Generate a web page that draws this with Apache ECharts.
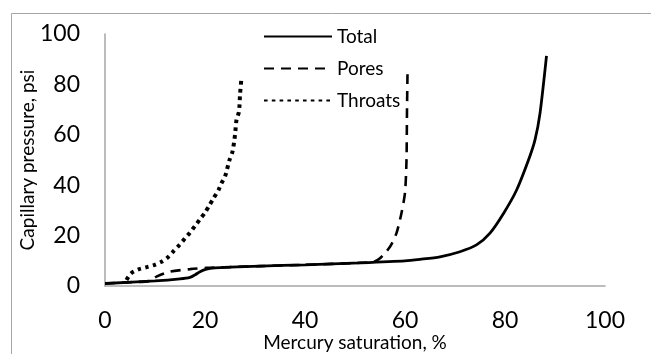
<!DOCTYPE html>
<html>
<head>
<meta charset="utf-8">
<script src="https://cdn.jsdelivr.net/npm/echarts@6/dist/echarts.min.js"></script>
<style>
    html, body { margin: 0; padding: 0; background: #fff; }
    #chart { width: 651px; height: 354px; }
</style>
</head>
<body>
<div id="chart"></div>
<script>
// mercury saturation (%) and capillary pressure (psi)
var totalSat = [0, 10, 15, 17, 18, 19, 20.3, 22, 25, 31, 40, 51, 60, 63, 67, 71, 74.3, 77, 79.7, 82.3, 84.7, 86, 87, 88.3];
var totalPc = [1, 2, 2.8, 3.4, 4.4, 5.7, 6.7, 7.2, 7.5, 7.9, 8.4, 9.2, 10, 10.6, 11.6, 13.6, 16.3, 21, 28.8, 38, 50, 58, 68.5, 91.3];

var poresSat = [0, 5, 9, 10.3, 13, 17, 20.3, 25, 31, 40, 51, 53.7, 55, 57, 58.3, 59.3, 60, 60.3, 60.4, 60.5];
var poresPc = [1, 1.5, 2, 3.7, 5.7, 6.7, 7.2, 7.5, 7.9, 8.4, 9.2, 9.6, 11, 15.6, 21, 29, 37, 50, 70, 84];

var throatSat = [4.3, 5.2, 6.7, 8.2, 9.8, 11.3, 12.7, 13.8, 14.9, 16, 17, 18, 19, 20, 20.9, 21.7, 22.7, 23.3, 24, 24.9, 25.5, 26, 26.3, 26.8, 27, 27.3];
var throatPc = [2.4, 5, 6.6, 7.4, 8.3, 9.6, 11.6, 14, 16.3, 18.9, 21.2, 23.8, 26.5, 29.1, 32.1, 34.8, 38.1, 40.8, 43.4, 50, 53.3, 59.9, 65.9, 69.2, 75.8, 82.8];

var seriesNames = ['Total', 'Pores', 'Throats'];
var axisTicks = [0, 20, 40, 60, 80, 100];

function pairs(xs, ys) {
    var out = [];
    for (var i = 0; i < xs.length; i++) {
        out.push([xs[i], ys[i]]);
    }
    return out;
}

var font = 'Lato, "Open Sans", sans-serif';
var myChart = echarts.init(document.getElementById('chart'));
var option = {
    animation: false,
    backgroundColor: '#fff',
    textStyle: { fontFamily: font, color: '#000' },
    graphic: [
        {
            type: 'rect',
            shape: { x: 11.5, y: 13.5, width: 700, height: 400 },
            style: { fill: 'none', stroke: '#a6a6a6', lineWidth: 1 },
            silent: true
        }
    ],
    // plot box is fixed, do not let v6 shrink it for labels
    grid: { left: 105, right: 46, top: 34, bottom: 68, containLabel: false, outerBoundsMode: 'none' },
    legend: {
        orient: 'vertical',
        left: 258,
        top: 22,
        itemWidth: 68,
        itemHeight: 14,
        itemGap: 13,
        data: seriesNames,
        itemStyle: { color: 'rgba(0,0,0,0)', borderWidth: 0 },
        textStyle: { fontFamily: font, fontSize: 19, color: '#000' }
    },
    xAxis: {
        type: 'value',
        min: axisTicks[0],
        max: axisTicks[axisTicks.length - 1],
        interval: axisTicks[1] - axisTicks[0],
        name: 'Mercury saturation, %',
        nameLocation: 'middle',
        nameGap: 47,
        nameMoveOverlap: false,
        nameTextStyle: { fontFamily: font, fontSize: 19, color: '#000' },
        axisLine: { lineStyle: { color: '#a6a6a6', width: 1.5 } },
        axisTick: { show: false },
        splitLine: { show: false },
        axisLabel: { fontFamily: font, fontSize: 23, color: '#000', margin: 23 }
    },
    yAxis: {
        type: 'value',
        min: axisTicks[0],
        max: axisTicks[axisTicks.length - 1],
        interval: axisTicks[1] - axisTicks[0],
        name: 'Capillary pressure, psi',
        nameLocation: 'middle',
        nameGap: 68,
        nameMoveOverlap: false,
        nameTextStyle: { fontFamily: font, fontSize: 19, color: '#000' },
        axisLine: { show: true, lineStyle: { color: '#a6a6a6', width: 1.5 } },
        axisTick: { show: false },
        splitLine: { show: false },
        axisLabel: { fontFamily: font, fontSize: 23, color: '#000', margin: 25 }
    },
    series: [
        {
            name: seriesNames[0],
            type: 'line',
            showSymbol: false,
            symbol: 'none',
            smooth: 0.25,
            lineStyle: { color: '#000', width: 2.8 },
            itemStyle: { color: '#000' },
            data: pairs(totalSat, totalPc)
        },
        {
            name: seriesNames[1],
            type: 'line',
            showSymbol: false,
            symbol: 'none',
            smooth: 0.25,
            lineStyle: { color: '#000', width: 2.6, type: [10, 7] },
            itemStyle: { color: '#000' },
            data: pairs(poresSat, poresPc)
        },
        {
            name: seriesNames[2],
            type: 'line',
            showSymbol: false,
            symbol: 'none',
            smooth: 0.25,
            lineStyle: { color: '#000', width: 4, type: [3.6, 4.2] },
            itemStyle: { color: '#000' },
            data: pairs(throatSat, throatPc)
        }
    ]
};
myChart.setOption(option);
</script>
</body>
</html>
